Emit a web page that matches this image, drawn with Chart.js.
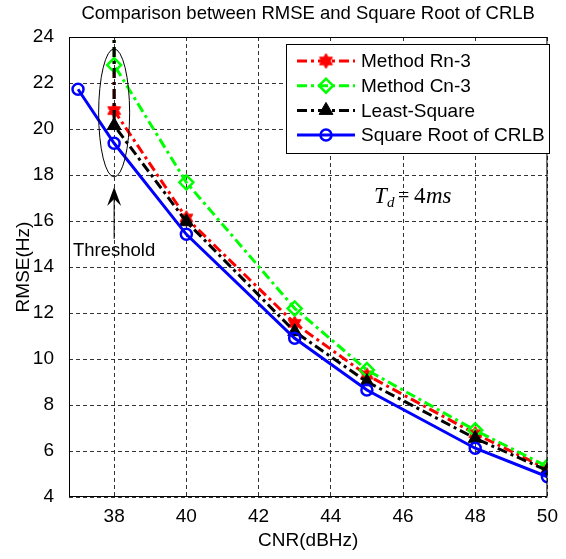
<!DOCTYPE html>
<html>
<head>
<meta charset="utf-8">
<script src="https://cdn.jsdelivr.net/npm/chart.js@4.4.1/dist/chart.umd.min.js"></script>
<style>
  body { margin: 0; background: #fff; }
  canvas { display: block; }
</style>
</head>
<body>
<canvas id="rmseChart" width="566" height="559"></canvas>
<script>
// data
var cnrCrlb = [37, 38, 40, 43, 45, 48, 50];
var cnrMethods = [38, 38, 40, 43, 45, 48, 50];   // first point is off the top of the axis
var rootCrlb = [21.73, 19.38, 15.42, 10.9, 8.65, 6.12, 4.88];
var methodRn3 = [40, 20.8, 16.13, 11.55, 9.3, 6.75, 5.22];
var methodCn3 = [40, 22.78, 17.68, 12.2, 9.52, 6.9, 5.32];
var leastSquare = [40, 20.15, 15.97, 11.19, 9.01, 6.55, 5.15];
var xTicks = [38, 40, 42, 44, 46, 48, 50];
var yTicks = [4, 6, 8, 10, 12, 14, 16, 18, 20, 22, 24];
var seriesNames = ['Method Rn-3', 'Method Cn-3', 'Least-Square', 'Square Root of CRLB'];

var FONT = "'Liberation Sans', Arial, sans-serif";
var SERIF = '"Liberation Serif", "Times New Roman", serif';
var dashDot = [10, 4, 3, 4];

function makeHexagram(color, R) {
    var s = Math.ceil(R * 2 + 4);
    var c = document.createElement('canvas');
    c.width = s; c.height = s;
    var g = c.getContext('2d');
    g.translate(s / 2, s / 2);
    g.beginPath();
    for (var i = 0; i < 12; i++) {
        var a = -Math.PI / 2 + i * Math.PI / 6;
        var rr = i % 2 ? R / Math.sqrt(3) : R;
        g.lineTo(rr * Math.cos(a), rr * Math.sin(a));
    }
    g.closePath();
    g.fillStyle = color;
    g.fill();
    g.strokeStyle = color;
    g.lineWidth = 1;
    g.stroke();
    return c;
}
var hexRed = makeHexagram('#ff0000', 7.5);

function toPoints(xs, ys) {
    return xs.map(function (x, i) { return { x: x, y: ys[i] }; });
}

var styles = [
    { color: '#ff0000', dash: dashDot, pointStyle: hexRed, radius: 7, fill: '#ff0000', bw: 1 },
    { color: '#00ff00', dash: dashDot, pointStyle: 'rectRot', radius: 7, fill: 'rgba(0,0,0,0)', bw: 2.5 },
    { color: '#000000', dash: dashDot, pointStyle: 'triangle', radius: 8, fill: '#000000', bw: 1 },
    { color: '#0000ff', dash: [], pointStyle: 'circle', radius: 5.5, fill: 'rgba(0,0,0,0)', bw: 2.5 }
];

function makeDataset(i, pts) {
    var s = styles[i];
    return {
        label: seriesNames[i],
        data: pts,
        borderColor: s.color,
        borderWidth: 3,
        borderDash: s.dash,
        pointStyle: s.pointStyle,
        pointRadius: s.radius,
        pointBackgroundColor: s.fill,
        pointBorderColor: s.color,
        pointBorderWidth: s.bw,
        tension: 0,
        clip: 0,
        order: 4 - i
    };
}

var extras = {
    id: 'extras',
    afterDraw: function (chart) {
        var ctx = chart.ctx;
        var a = chart.chartArea;
        var xs = chart.scales.x, ys = chart.scales.y;
        ctx.save();

        // axes box
        ctx.strokeStyle = '#000';
        ctx.lineWidth = 1;
        ctx.setLineDash([]);
        ctx.strokeRect(a.left + 0.5, a.top + 0.5, a.right - a.left - 1, a.bottom - a.top - 1);

        // title
        ctx.fillStyle = '#000';
        ctx.font = '18.5px ' + FONT;
        ctx.textAlign = 'center';
        ctx.textBaseline = 'middle';
        ctx.fillText('Comparison between RMSE and Square Root of CRLB', (a.left + a.right) / 2, 14);

        // threshold ellipse + arrow
        var cx = xs.getPixelForValue(38);
        var cy = ys.getPixelForValue(20.7);
        ctx.beginPath();
        ctx.ellipse(cx, cy, 15.5, 64, 0, 0, Math.PI * 2);
        ctx.stroke();
        var tipY = cy + 74;
        ctx.beginPath();
        ctx.moveTo(cx, tipY + 12);
        ctx.lineTo(cx, tipY + 52);
        ctx.stroke();
        ctx.beginPath();
        ctx.moveTo(cx, tipY);
        ctx.lineTo(cx + 7, tipY + 19);
        ctx.lineTo(cx, tipY + 12);
        ctx.lineTo(cx - 7, tipY + 19);
        ctx.closePath();
        ctx.fill();
        ctx.font = '18.5px ' + FONT;
        ctx.fillText('Threshold', cx, tipY + 64);

        // T_d = 4ms
        ctx.textAlign = 'left';
        ctx.textBaseline = 'alphabetic';
        ctx.font = 'italic 23px ' + SERIF;
        ctx.fillText('T', 374, 203);
        ctx.font = 'italic 15px ' + SERIF;
        ctx.fillText('d', 387, 207);
        ctx.font = '20px ' + SERIF;
        ctx.fillText('=', 398, 202);
        ctx.font = '23px ' + SERIF;
        ctx.fillText('4', 414, 203);
        ctx.font = 'italic 23px ' + SERIF;
        ctx.fillText('ms', 426, 203);

        // legend
        var lx = 286, ly = 44, lw = 263, lh = 109;
        ctx.fillStyle = '#fff';
        ctx.fillRect(lx, ly, lw, lh);
        ctx.strokeStyle = '#000';
        ctx.lineWidth = 1;
        ctx.strokeRect(lx + 0.5, ly + 0.5, lw, lh);
        ctx.font = '19px ' + FONT;
        ctx.textBaseline = 'middle';
        for (var i = 0; i < seriesNames.length; i++) {
            var s = styles[i];
            var ry = 61 + i * 24.7;
            ctx.strokeStyle = s.color;
            ctx.lineWidth = 3;
            ctx.setLineDash(s.dash);
            ctx.beginPath();
            ctx.moveTo(297, ry);
            ctx.lineTo(355, ry);
            ctx.stroke();
            ctx.setLineDash([]);
            ctx.fillStyle = s.fill;
            ctx.strokeStyle = s.color;
            ctx.lineWidth = s.bw;
            Chart.helpers.drawPoint(ctx, { pointStyle: s.pointStyle, radius: s.radius, rotation: 0, borderWidth: s.bw }, 326, ry);
            ctx.fillStyle = '#000';
            ctx.fillText(seriesNames[i], 361, ry + 1);
        }
        ctx.restore();
    }
};

var ctx1 = document.getElementById('rmseChart').getContext('2d');
var rmseChart = new Chart(ctx1, {
    type: 'line',
    data: {
        datasets: [
            makeDataset(0, toPoints(cnrMethods, methodRn3)),
            makeDataset(1, toPoints(cnrMethods, methodCn3)),
            makeDataset(2, toPoints(cnrMethods, leastSquare)),
            makeDataset(3, toPoints(cnrCrlb, rootCrlb))
        ]
    },
    plugins: [extras],
    options: {
        responsive: false,
        animation: false,
        layout: { padding: { top: 37, right: 9, left: 0, bottom: 0 } },
        plugins: {
            legend: { display: false },
            title: { display: false },
            tooltip: { enabled: false }
        },
        scales: {
            x: {
                type: 'linear',
                min: 36.75,
                max: 50,
                afterBuildTicks: function (axis) {
                    axis.ticks = xTicks.map(function (v) { return { value: v }; });
                },
                afterFit: function (scale) { scale.height = 62; },
                grid: {
                    color: '#333',
                    lineWidth: 1,
                    drawTicks: false
                },
                border: { display: false, dash: [4, 3] },
                ticks: {
                    color: '#000',
                    font: { family: FONT, size: 19 },
                    padding: 8,
                    maxRotation: 0
                },
                title: {
                    display: true,
                    text: 'CNR(dBHz)',
                    color: '#000',
                    font: { family: FONT, size: 19 },
                    padding: { top: 0, bottom: 7 }
                }
            },
            y: {
                type: 'linear',
                min: 4,
                max: 24,
                afterBuildTicks: function (axis) {
                    axis.ticks = yTicks.map(function (v) { return { value: v }; });
                },
                afterFit: function (scale) { scale.width = 69; },
                grid: {
                    color: '#333',
                    lineWidth: 1,
                    drawTicks: false
                },
                border: { display: false, dash: [4, 3] },
                ticks: {
                    color: '#000',
                    font: { family: FONT, size: 19 },
                    padding: 15
                },
                title: {
                    display: true,
                    text: 'RMSE(Hz)',
                    color: '#000',
                    font: { family: FONT, size: 19 },
                    padding: { top: 12, bottom: 0 }
                }
            }
        }
    }
});
</script>
</body>
</html>
